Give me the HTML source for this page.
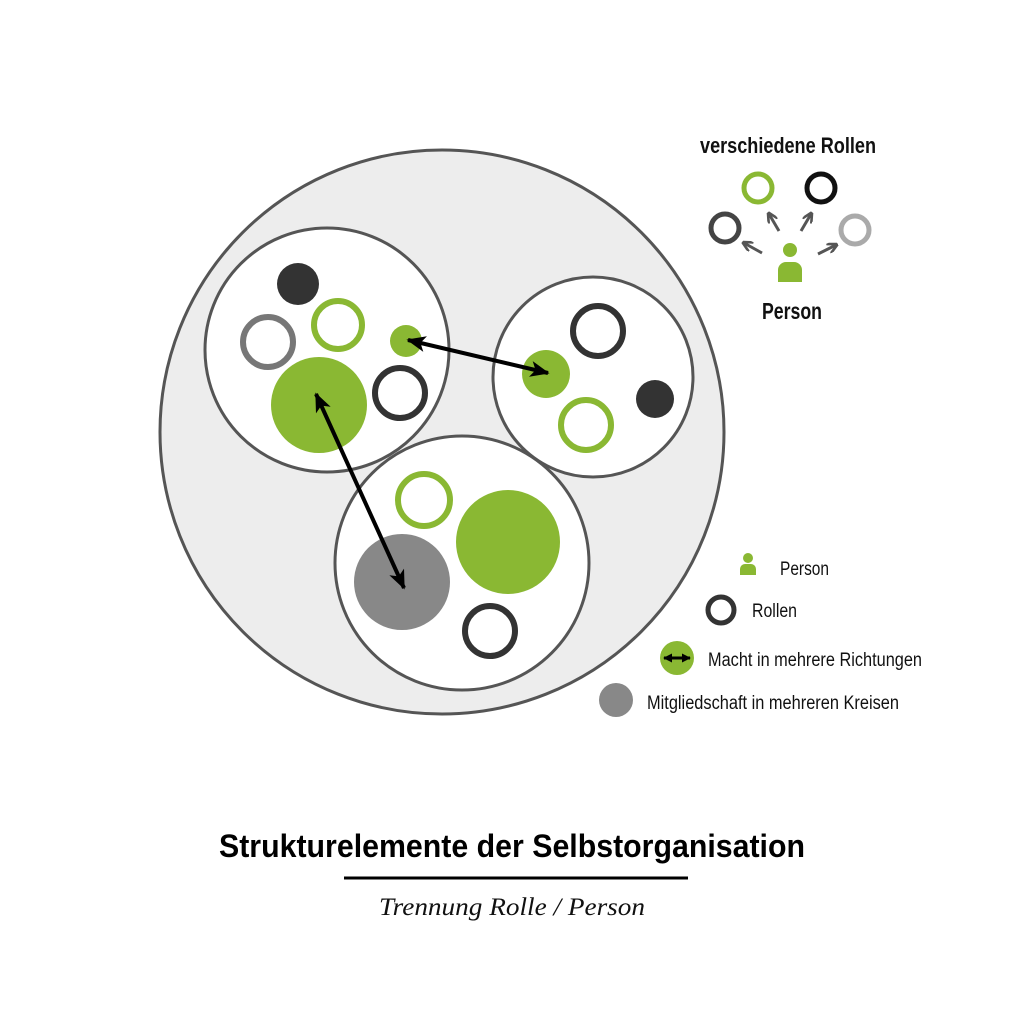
<!DOCTYPE html>
<html><head><meta charset="utf-8"><style>body{margin:0;background:#fff}svg{display:block}</style></head><body>
<svg width="1024" height="1012" viewBox="0 0 1024 1012" xmlns="http://www.w3.org/2000/svg" font-family="Liberation Sans, sans-serif">
<defs>
<marker id="ah" viewBox="0 0 12 10" refX="11" refY="5" markerWidth="5" markerHeight="4" orient="auto-start-reverse"><path d="M0,0 L12,5 L0,10 L3,5 z" fill="#000"/></marker>
<marker id="as" viewBox="0 0 10 10" refX="9" refY="5" markerWidth="3" markerHeight="3" orient="auto-start-reverse"><path d="M0,0 L10,5 L0,10 z" fill="#000"/></marker>
<marker id="gh" viewBox="0 0 10 10" refX="8" refY="5" markerWidth="3.5" markerHeight="3.5" orient="auto"><path d="M0,0 L10,5 L0,10" fill="none" stroke="#555" stroke-width="2.5"/></marker>
</defs>
<circle cx="442" cy="432" r="282" fill="#ededed" stroke="#555" stroke-width="3"/>
<circle cx="327" cy="350" r="122" fill="#fff" stroke="#555" stroke-width="3"/>
<circle cx="593" cy="377" r="100" fill="#fff" stroke="#555" stroke-width="3"/>
<circle cx="462" cy="563" r="127" fill="#fff" stroke="#555" stroke-width="3"/>
<!-- A -->
<circle cx="298" cy="284" r="21" fill="#333"/>
<circle cx="268" cy="342" r="25" fill="none" stroke="#777" stroke-width="6"/>
<circle cx="338" cy="325" r="24" fill="none" stroke="#8ab833" stroke-width="6"/>
<circle cx="406" cy="341" r="16" fill="#8ab833"/>
<circle cx="319" cy="405" r="48" fill="#8ab833"/>
<circle cx="400" cy="393" r="25" fill="none" stroke="#333" stroke-width="6"/>
<!-- B -->
<circle cx="598" cy="331" r="25" fill="none" stroke="#333" stroke-width="6"/>
<circle cx="546" cy="374" r="24" fill="#8ab833"/>
<circle cx="586" cy="425" r="25" fill="none" stroke="#8ab833" stroke-width="6"/>
<circle cx="655" cy="399" r="19" fill="#333"/>
<!-- C -->
<circle cx="424" cy="500" r="26" fill="none" stroke="#8ab833" stroke-width="6"/>
<circle cx="508" cy="542" r="52" fill="#8ab833"/>
<circle cx="402" cy="582" r="48" fill="#888"/>
<circle cx="490" cy="631" r="25" fill="none" stroke="#333" stroke-width="6"/>
<!-- arrows -->
<line x1="408" y1="340" x2="548" y2="373" stroke="#000" stroke-width="4" marker-start="url(#ah)" marker-end="url(#ah)"/>
<line x1="316" y1="394" x2="404" y2="588" stroke="#000" stroke-width="4" marker-start="url(#ah)" marker-end="url(#ah)"/>
<!-- top-right legend -->
<text x="788" y="153" font-size="22" font-weight="bold" text-anchor="middle" textLength="176" lengthAdjust="spacingAndGlyphs" fill="#111">verschiedene Rollen</text>
<circle cx="758" cy="188" r="14" fill="none" stroke="#8ab833" stroke-width="5"/>
<circle cx="821" cy="188" r="14" fill="none" stroke="#111" stroke-width="5"/>
<circle cx="725" cy="228" r="14" fill="none" stroke="#444" stroke-width="5"/>
<circle cx="855" cy="230" r="14" fill="none" stroke="#aaa" stroke-width="5"/>
<circle cx="790" cy="250" r="7" fill="#8ab833"/>
<path d="M778,282 v-12 a8,8 0 0 1 8,-8 h8 a8,8 0 0 1 8,8 v12 z" fill="#8ab833"/>
<g stroke="#555" stroke-width="3"><line x1="779" y1="231" x2="769" y2="214" marker-end="url(#gh)"/><line x1="801" y1="231" x2="811" y2="214" marker-end="url(#gh)"/><line x1="762" y1="253" x2="744" y2="243" marker-end="url(#gh)"/><line x1="818" y1="254" x2="836" y2="245" marker-end="url(#gh)"/></g>
<text x="792" y="319" font-size="23" font-weight="bold" text-anchor="middle" textLength="60" lengthAdjust="spacingAndGlyphs" fill="#111">Person</text>
<!-- bottom legend -->
<circle cx="748" cy="558" r="5" fill="#8ab833"/>
<path d="M740,575 v-6 a5,5 0 0 1 5,-5 h6 a5,5 0 0 1 5,5 v6 z" fill="#8ab833"/>
<text x="780" y="575" font-size="19" textLength="49" lengthAdjust="spacingAndGlyphs" fill="#111">Person</text>
<circle cx="721" cy="610" r="13" fill="none" stroke="#333" stroke-width="5"/>
<text x="752" y="617" font-size="19" textLength="45" lengthAdjust="spacingAndGlyphs" fill="#111">Rollen</text>
<circle cx="677" cy="658" r="17" fill="#8ab833"/>
<line x1="664" y1="658" x2="690" y2="658" stroke="#000" stroke-width="3" marker-start="url(#as)" marker-end="url(#as)"/>
<text x="708" y="666" font-size="19" textLength="214" lengthAdjust="spacingAndGlyphs" fill="#111">Macht in mehrere Richtungen</text>
<circle cx="616" cy="700" r="17" fill="#888"/>
<text x="647" y="709" font-size="19" textLength="252" lengthAdjust="spacingAndGlyphs" fill="#111">Mitgliedschaft in mehreren Kreisen</text>
<!-- title -->
<text x="512" y="857" font-size="32" font-weight="bold" text-anchor="middle" textLength="586" lengthAdjust="spacingAndGlyphs" fill="#000">Strukturelemente der Selbstorganisation</text>
<line x1="344" y1="878" x2="688" y2="878" stroke="#000" stroke-width="3"/>
<text x="512" y="915" font-size="25" font-style="italic" font-family="Liberation Serif, serif" text-anchor="middle" textLength="266" lengthAdjust="spacingAndGlyphs" fill="#111">Trennung Rolle / Person</text>
</svg>
</body></html>
